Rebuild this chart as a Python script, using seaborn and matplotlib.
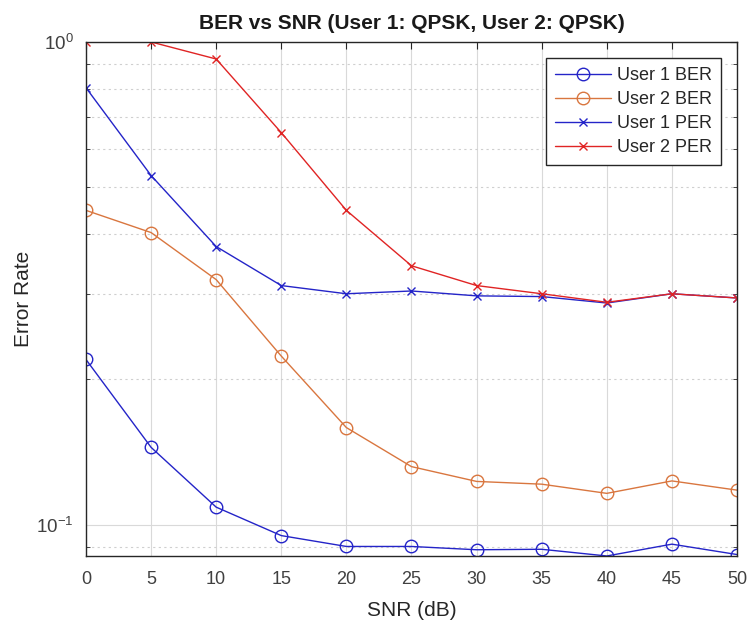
import matplotlib
matplotlib.use("Agg")
import matplotlib.pyplot as plt
import seaborn as sns
import pandas as pd
import numpy as np
from matplotlib.ticker import LogLocator, NullFormatter, FixedLocator

snr = [0, 5, 10, 15, 20, 25, 30, 35, 40, 45, 50]
user1_ber = [0.220, 0.1447, 0.1088, 0.0950, 0.0902, 0.0902, 0.0888, 0.0890, 0.0862, 0.0912, 0.0868]
user2_ber = [0.448, 0.403, 0.322, 0.2236, 0.159, 0.132, 0.123, 0.1214, 0.1162, 0.1233, 0.118]
user1_per = [0.804, 0.529, 0.377, 0.313, 0.301, 0.305, 0.298, 0.297, 0.288, 0.301, 0.295]
user2_per = [1.0, 1.0, 0.922, 0.649, 0.448, 0.344, 0.313, 0.301, 0.289, 0.301, 0.295]

series_names = ["User 1 BER", "User 2 BER", "User 1 PER", "User 2 PER"]
series_vals = [user1_ber, user2_ber, user1_per, user2_per]
colors = ["#2424C8", "#D9763F", "#2424C8", "#E02424"]
markers = ["o", "o", "x", "x"]

sns.set_theme(style="white")
plt.rcParams["font.family"] = ["Liberation Sans", "DejaVu Sans"]
plt.rcParams["mathtext.default"] = "regular"

fig = plt.figure(figsize=(7.47, 6.21), dpi=100)
ax = fig.add_axes([0.1151, 0.1047, 0.8715, 0.8277])

for name, vals, c, m in zip(series_names, series_vals, colors, markers):
    df = pd.DataFrame({"snr": snr, "val": vals})
    if m == "o":
        sns.lineplot(data=df, x="snr", y="val", ax=ax, color=c, linewidth=1.0,
                     marker="o", markersize=9, markerfacecolor="none",
                     markeredgecolor=c, markeredgewidth=1.0, label=name)
    else:
        sns.lineplot(data=df, x="snr", y="val", ax=ax, color=c, linewidth=1.0,
                     marker="x", markersize=6, markeredgecolor=c,
                     markeredgewidth=1.0, label=name)

ax.set_yscale("log")
ax.set_xlim(0, 50)
ax.set_ylim(0.0862, 1.0)
ax.xaxis.set_major_locator(FixedLocator(snr))
ax.yaxis.set_major_locator(LogLocator(base=10, numticks=10))
ax.yaxis.set_minor_locator(LogLocator(base=10, subs=np.arange(2, 10), numticks=20))
ax.yaxis.set_minor_formatter(NullFormatter())

ax.grid(True, which="major", axis="both", color="#d9d9d9", linewidth=0.8, linestyle="-")
ax.grid(True, which="minor", axis="y", color="#cfcfcf", linewidth=0.8, linestyle=(0, (2, 3)))
ax.set_axisbelow(True)

ax.tick_params(axis="x", which="major", direction="in", length=5, width=0.8,
               top=True, labelsize=13, labelcolor="#404040", color="#262626", pad=11)
ax.tick_params(axis="y", which="major", direction="in", length=5, width=0.8,
               right=True, labelsize=13.5, labelcolor="#404040", color="#262626", pad=9)
ax.tick_params(axis="y", which="minor", direction="in", length=3, width=0.6,
               left=True, right=True, color="#262626")
for s in ax.spines.values():
    s.set_color("#262626")
    s.set_linewidth(1.0)

ax.set_xlabel("SNR (dB)", fontsize=15, color="#262626", labelpad=9)
ax.set_ylabel("Error Rate", fontsize=15, color="#262626", labelpad=2)
ax.set_title("BER vs SNR (User 1: QPSK, User 2: QPSK)", fontsize=15, fontweight="bold",
             color="#1a1a1a", pad=9.5)

leg = ax.legend(loc="upper right", fontsize=13, frameon=True, fancybox=False,
                framealpha=1, edgecolor="#262626", handlelength=3.1,
                borderaxespad=0.9, labelspacing=0.38, handletextpad=0.3,
                borderpad=0.5)
leg.get_frame().set_linewidth(1.0)

fig.savefig("out.png", dpi=100)
